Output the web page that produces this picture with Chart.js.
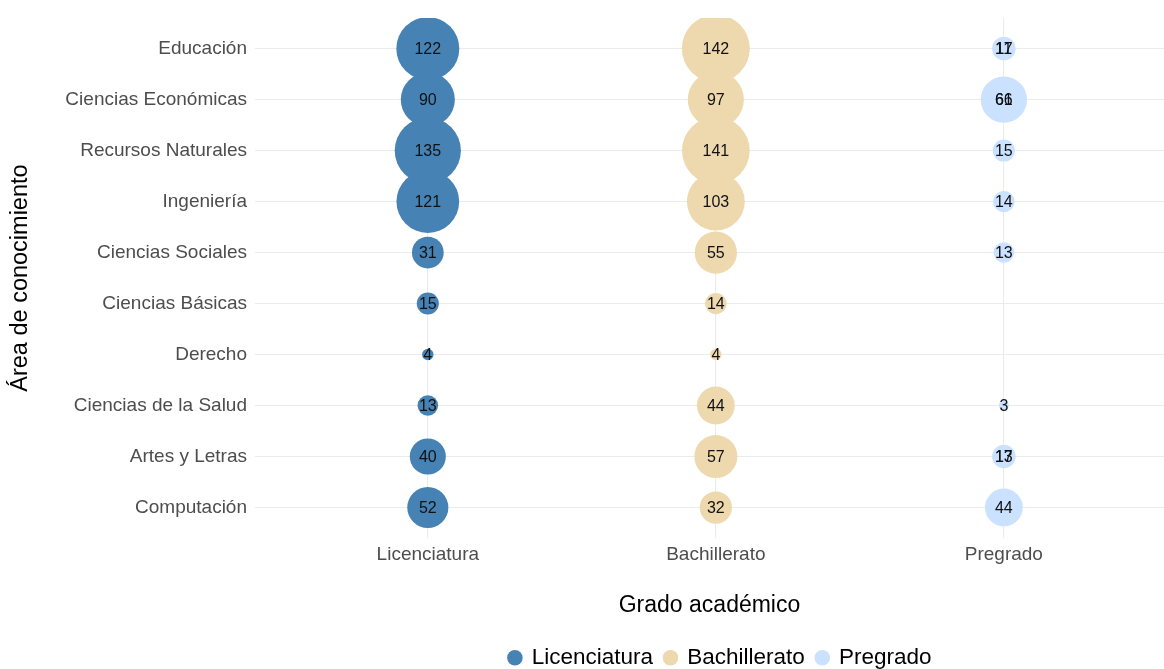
<!DOCTYPE html>
<html>
<head>
<meta charset="utf-8">
<script src="https://cdn.jsdelivr.net/npm/chart.js@4"></script>
<style>
  html, body { margin: 0; padding: 0; background: #ffffff; }
  #wrap { width: 1164px; height: 669px; overflow: hidden; }
</style>
</head>
<body>
<div id="wrap"><canvas id="bubbleChart" width="1164" height="669"></canvas></div>
<script>
const areas = ['Educación', 'Ciencias Económicas', 'Recursos Naturales', 'Ingeniería', 'Ciencias Sociales',
  'Ciencias Básicas', 'Derecho', 'Ciencias de la Salud', 'Artes y Letras', 'Computación'];
const grados = ['Licenciatura', 'Bachillerato', 'Pregrado'];

const licenciatura = [122, 90, 135, 121, 31, 15, 4, 13, 40, 52];
const bachillerato = [142, 97, 141, 103, 55, 14, 4, 44, 57, 32];
// Pregrado has two overlapping records in some areas
const pregradoA = [17, 66, 15, 14, 13, null, null, 3, 17, 44];
const pregradoB = [11, 61, null, null, null, null, null, null, 13, null];

const colors = ['#4682B4', '#EED8AE', '#CAE1FF'];
const sizeK = 2.85;
const FONT = "'Liberation Sans', Arial, sans-serif";

function toPoints(values, gradoIdx) {
  const pts = [];
  values.forEach((v, i) => {
    if (v === null) return;
    pts.push({ x: gradoIdx, y: i, r: sizeK * Math.sqrt(v), v: v });
  });
  return pts;
}

const bubbleLabels = {
  id: 'bubbleLabels',
  afterDatasetsDraw(chart) {
    const ctx = chart.ctx;
    ctx.save();
    ctx.font = '16px ' + FONT;
    ctx.fillStyle = '#111111';
    ctx.textAlign = 'center';
    ctx.textBaseline = 'middle';
    chart.data.datasets.forEach((ds, di) => {
      const meta = chart.getDatasetMeta(di);
      meta.data.forEach((el, i) => {
        ctx.fillText(String(ds.data[i].v), el.x, el.y + 1);
      });
    });
    ctx.restore();
  }
};

// the original plot is a bit wider than the window, so its legend sits right of centre
const legendShift = {
  id: 'legendShift',
  afterLayout(chart) {
    if (chart.legend) {
      chart.legend.left += 11;
      chart.legend.right += 11;
    }
  }
};

const ctx = document.getElementById('bubbleChart').getContext('2d');

new Chart(ctx, {
  type: 'bubble',
  data: {
    datasets: [
      { label: 'Licenciatura', data: toPoints(licenciatura, 0), backgroundColor: colors[0] },
      { label: 'Bachillerato', data: toPoints(bachillerato, 1), backgroundColor: colors[1] },
      { label: 'Pregrado', data: toPoints(pregradoA, 2).concat(toPoints(pregradoB, 2)), backgroundColor: colors[2] }
    ]
  },
  options: {
    responsive: false,
    animation: false,
    layout: { autoPadding: false, padding: { top: 18, left: 0, right: 0, bottom: -10 } },
    elements: { point: { borderWidth: 0, pointStyle: 'circle' } },
    scales: {
      x: {
        type: 'linear',
        min: -0.6,
        max: 2.556,
        afterBuildTicks: s => { s.ticks = grados.map((_, i) => ({ value: i })); },
        afterFit: s => { s.height = 96.4; s.paddingLeft = 0; s.paddingRight = 0; },
        grid: { color: '#ebebeb', lineWidth: 1, drawTicks: false },
        border: { display: false },
        ticks: {
          padding: 5,
          color: '#4d4d4d',
          font: { family: FONT, size: 19 },
          callback: v => grados[v]
        },
        title: {
          display: true,
          text: 'Grado académico',
          color: '#000000',
          font: { family: FONT, size: 23 },
          padding: { top: 0, bottom: 15 }
        }
      },
      y: {
        type: 'linear',
        reverse: true,
        min: -0.6,
        max: 9.6,
        afterBuildTicks: s => { s.ticks = areas.map((_, i) => ({ value: i })); },
        afterFit: s => { s.width = 255; s.paddingTop = 0; s.paddingBottom = 0; },
        grid: { color: '#ebebeb', lineWidth: 1, drawTicks: false },
        border: { display: false },
        ticks: {
          padding: 8,
          color: '#4d4d4d',
          font: { family: FONT, size: 19 },
          callback: v => areas[v]
        },
        title: {
          display: true,
          text: 'Área de conocimiento',
          color: '#000000',
          font: { family: FONT, size: 23.5 },
          padding: { top: 6, bottom: 0 }
        }
      }
    },
    plugins: {
      tooltip: { enabled: false },
      legend: {
        position: 'bottom',
        fullSize: false,
        labels: {
          usePointStyle: true,
          pointStyle: 'circle',
          boxWidth: 11,
          boxHeight: 11,
          padding: 12,
          color: '#000000',
          font: { family: FONT, size: 22.5 }
        }
      }
    }
  },
  plugins: [bubbleLabels, legendShift]
});
</script>
</body>
</html>
